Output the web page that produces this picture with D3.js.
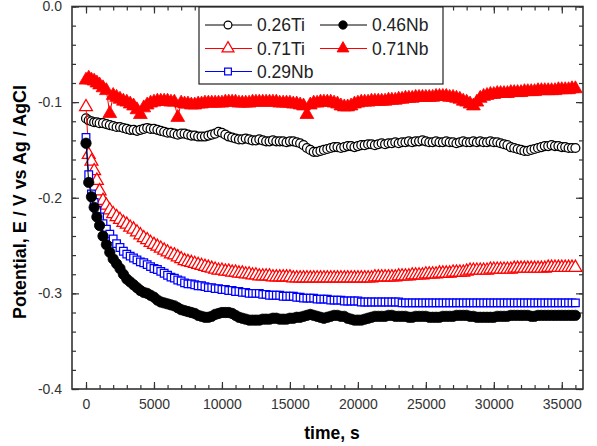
<!DOCTYPE html>
<html>
<head>
<meta charset="utf-8">
<script src="https://cdn.jsdelivr.net/npm/d3@7"></script>
<style>
  body { margin: 0; background: #fff; }
  svg text { font-family: "Liberation Sans", Arial, sans-serif; }
</style>
</head>
<body>
<div id="chart"></div>
<script>
// time axis (s), shared by every series
var times = [0, 200, 400, 600, 800, 1000, 1250, 1500, 1750, 2000,
  2250, 2500, 2750, 3000, 3250, 3500, 3750, 4000,
  4250, 4500, 4750, 5000, 5250, 5500, 5750, 6000,
  6250, 6500, 6750, 7000, 7250, 7500, 7750, 8000,
  8250, 8500, 8750, 9000, 9250, 9500, 9750, 10000,
  10250, 10500, 10750, 11000, 11250, 11500, 11750, 12000,
  12250, 12500, 12750, 13000, 13250, 13500, 13750, 14000,
  14250, 14500, 14750, 15000, 15250, 15500, 15750, 16000,
  16250, 16500, 16750, 17000, 17250, 17500, 17750, 18000,
  18250, 18500, 18750, 19000, 19250, 19500, 19750, 20000,
  20250, 20500, 20750, 21000, 21250, 21500, 21750, 22000,
  22250, 22500, 22750, 23000, 23250, 23500, 23750, 24000,
  24250, 24500, 24750, 25000, 25250, 25500, 25750, 26000,
  26250, 26500, 26750, 27000, 27250, 27500, 27750, 28000,
  28250, 28500, 28750, 29000, 29250, 29500, 29750, 30000,
  30250, 30500, 30750, 31000, 31250, 31500, 31750, 32000,
  32250, 32500, 32750, 33000, 33250, 33500, 33750, 34000,
  34250, 34500, 34750, 35000, 35250, 35500, 35750, 36000]

// potential, V vs Ag/AgCl
var ti026 = [-0.117, -0.119, -0.120, -0.121, -0.121, -0.122, -0.122, -0.123, -0.124, -0.125,
  -0.126, -0.126, -0.127, -0.128, -0.129, -0.129, -0.130, -0.129,
  -0.128, -0.127, -0.128, -0.128, -0.129, -0.130, -0.131, -0.132,
  -0.132, -0.133, -0.134, -0.133, -0.133, -0.134, -0.135, -0.135,
  -0.136, -0.136, -0.136, -0.135, -0.134, -0.133, -0.131, -0.132,
  -0.134, -0.136, -0.137, -0.138, -0.139, -0.139, -0.138, -0.139,
  -0.140, -0.140, -0.139, -0.140, -0.141, -0.141, -0.140, -0.141,
  -0.141, -0.141, -0.142, -0.141, -0.141, -0.142, -0.143, -0.145,
  -0.148, -0.150, -0.152, -0.152, -0.151, -0.150, -0.149, -0.148,
  -0.147, -0.147, -0.148, -0.147, -0.146, -0.146, -0.147, -0.146,
  -0.145, -0.145, -0.144, -0.144, -0.145, -0.144, -0.143, -0.144,
  -0.143, -0.143, -0.142, -0.143, -0.142, -0.142, -0.141, -0.142,
  -0.141, -0.141, -0.140, -0.141, -0.142, -0.142, -0.141, -0.142,
  -0.142, -0.141, -0.142, -0.142, -0.143, -0.142, -0.141, -0.142,
  -0.142, -0.141, -0.142, -0.141, -0.142, -0.142, -0.141, -0.142,
  -0.142, -0.143, -0.144, -0.145, -0.147, -0.148, -0.149, -0.150,
  -0.151, -0.151, -0.150, -0.149, -0.148, -0.147, -0.146, -0.146,
  -0.145, -0.146, -0.146, -0.147, -0.147, -0.148, -0.148, -0.148]

var nb046 = [-0.143, -0.184, -0.199, -0.210, -0.220, -0.229, -0.240, -0.249, -0.257, -0.264,
  -0.269, -0.274, -0.280, -0.285, -0.288, -0.291, -0.294, -0.297,
  -0.299, -0.300, -0.302, -0.304, -0.307, -0.309, -0.310, -0.311,
  -0.312, -0.313, -0.315, -0.317, -0.318, -0.319, -0.320, -0.321,
  -0.323, -0.324, -0.325, -0.325, -0.324, -0.322, -0.321, -0.320,
  -0.320, -0.320, -0.321, -0.323, -0.325, -0.326, -0.327, -0.328,
  -0.328, -0.328, -0.328, -0.327, -0.327, -0.327, -0.326, -0.326,
  -0.327, -0.327, -0.327, -0.326, -0.326, -0.325, -0.325, -0.324,
  -0.323, -0.322, -0.323, -0.324, -0.325, -0.326, -0.325, -0.324,
  -0.323, -0.323, -0.324, -0.324, -0.326, -0.327, -0.328, -0.328,
  -0.328, -0.327, -0.326, -0.325, -0.324, -0.324, -0.324, -0.324,
  -0.323, -0.323, -0.324, -0.324, -0.324, -0.324, -0.325, -0.325,
  -0.324, -0.324, -0.324, -0.324, -0.325, -0.325, -0.325, -0.325,
  -0.324, -0.324, -0.324, -0.324, -0.323, -0.323, -0.323, -0.323,
  -0.324, -0.324, -0.325, -0.325, -0.325, -0.325, -0.325, -0.325,
  -0.324, -0.324, -0.324, -0.324, -0.323, -0.323, -0.323, -0.323,
  -0.323, -0.323, -0.324, -0.324, -0.323, -0.323, -0.323, -0.323,
  -0.323, -0.323, -0.323, -0.323, -0.323, -0.323, -0.323, -0.323]

var ti071 = [-0.105, -0.155, -0.162, -0.172, -0.182, -0.193, -0.203, -0.208, -0.213, -0.217,
  -0.220, -0.223, -0.226, -0.228, -0.231, -0.233, -0.236, -0.239,
  -0.242, -0.244, -0.247, -0.249, -0.251, -0.253, -0.255, -0.257,
  -0.259, -0.260, -0.262, -0.264, -0.266, -0.267, -0.268, -0.269,
  -0.270, -0.271, -0.272, -0.273, -0.274, -0.275, -0.276, -0.276,
  -0.277, -0.277, -0.278, -0.278, -0.279, -0.279, -0.280, -0.280,
  -0.281, -0.281, -0.282, -0.282, -0.282, -0.282, -0.283, -0.283,
  -0.283, -0.283, -0.283, -0.283, -0.284, -0.284, -0.284, -0.284,
  -0.284, -0.284, -0.284, -0.284, -0.284, -0.284, -0.284, -0.284,
  -0.284, -0.284, -0.284, -0.284, -0.284, -0.284, -0.284, -0.284,
  -0.284, -0.284, -0.284, -0.284, -0.283, -0.283, -0.283, -0.283,
  -0.283, -0.283, -0.283, -0.282, -0.282, -0.282, -0.282, -0.281,
  -0.281, -0.281, -0.281, -0.280, -0.280, -0.280, -0.280, -0.279,
  -0.279, -0.279, -0.279, -0.278, -0.278, -0.278, -0.278, -0.277,
  -0.276, -0.276, -0.276, -0.276, -0.276, -0.276, -0.275, -0.275,
  -0.275, -0.275, -0.275, -0.275, -0.275, -0.274, -0.274, -0.274,
  -0.274, -0.274, -0.274, -0.274, -0.274, -0.274, -0.274, -0.273,
  -0.273, -0.273, -0.273, -0.273, -0.273, -0.273, -0.273, -0.273]

var nb071 = [-0.077, -0.075, -0.077, -0.078, -0.080, -0.082, -0.085, -0.088, -0.112, -0.093,
  -0.095, -0.097, -0.099, -0.100, -0.102, -0.104, -0.108, -0.113,
  -0.106, -0.103, -0.101, -0.100, -0.099, -0.099, -0.099, -0.099,
  -0.100, -0.100, -0.116, -0.101, -0.102, -0.102, -0.103, -0.103,
  -0.102, -0.102, -0.101, -0.101, -0.101, -0.101, -0.101, -0.101,
  -0.100, -0.100, -0.100, -0.100, -0.101, -0.101, -0.101, -0.101,
  -0.100, -0.100, -0.100, -0.100, -0.100, -0.100, -0.100, -0.100,
  -0.101, -0.101, -0.101, -0.101, -0.102, -0.102, -0.103, -0.104,
  -0.113, -0.103, -0.101, -0.101, -0.100, -0.100, -0.100, -0.100,
  -0.101, -0.102, -0.104, -0.105, -0.105, -0.104, -0.102, -0.101,
  -0.100, -0.100, -0.100, -0.099, -0.099, -0.099, -0.099, -0.099,
  -0.098, -0.098, -0.098, -0.097, -0.097, -0.096, -0.096, -0.096,
  -0.095, -0.095, -0.095, -0.095, -0.095, -0.095, -0.094, -0.094,
  -0.094, -0.094, -0.095, -0.095, -0.096, -0.097, -0.099, -0.100,
  -0.102, -0.104, -0.100, -0.096, -0.094, -0.093, -0.092, -0.092,
  -0.091, -0.091, -0.091, -0.091, -0.090, -0.090, -0.090, -0.090,
  -0.089, -0.089, -0.089, -0.089, -0.088, -0.088, -0.088, -0.088,
  -0.088, -0.088, -0.087, -0.087, -0.087, -0.087, -0.086, -0.086]

var nb029 = [-0.137, -0.176, -0.196, -0.205, -0.213, -0.220, -0.227, -0.233, -0.238, -0.243,
  -0.248, -0.252, -0.256, -0.259, -0.261, -0.263, -0.265, -0.267,
  -0.268, -0.270, -0.272, -0.274, -0.275, -0.277, -0.279, -0.281,
  -0.283, -0.284, -0.286, -0.287, -0.289, -0.290, -0.290, -0.291,
  -0.292, -0.292, -0.293, -0.294, -0.294, -0.295, -0.295, -0.296,
  -0.296, -0.297, -0.297, -0.298, -0.298, -0.299, -0.299, -0.300,
  -0.300, -0.300, -0.300, -0.301, -0.301, -0.302, -0.302, -0.302,
  -0.302, -0.303, -0.303, -0.303, -0.303, -0.304, -0.304, -0.305,
  -0.305, -0.305, -0.305, -0.306, -0.306, -0.306, -0.306, -0.307,
  -0.307, -0.307, -0.307, -0.308, -0.308, -0.308, -0.308, -0.308,
  -0.309, -0.309, -0.309, -0.309, -0.309, -0.309, -0.309, -0.309,
  -0.309, -0.309, -0.309, -0.309, -0.310, -0.310, -0.310, -0.310,
  -0.310, -0.310, -0.310, -0.310, -0.310, -0.310, -0.310, -0.310,
  -0.310, -0.310, -0.310, -0.310, -0.310, -0.310, -0.310, -0.310,
  -0.310, -0.310, -0.310, -0.310, -0.310, -0.310, -0.310, -0.310,
  -0.310, -0.310, -0.310, -0.310, -0.310, -0.310, -0.310, -0.310,
  -0.310, -0.310, -0.310, -0.310, -0.310, -0.310, -0.310, -0.310,
  -0.310, -0.310, -0.310, -0.310, -0.310, -0.310, -0.310, -0.310]

var seriesNames = ["0.26Ti", "0.46Nb", "0.71Ti", "0.71Nb", "0.29Nb"]
var xTicks = [0, 5000, 10000, 15000, 20000, 25000, 30000, 35000]
var yTicks = [0, -0.1, -0.2, -0.3, -0.4]

// drawing order: last one on top
var series = [
  {name: "0.26Ti", values: ti026, color: "#000", shape: d3.symbolCircle, size: 62, key: 48, open: true},
  {name: "0.71Nb", values: nb071, color: "#ff0000", shape: d3.symbolTriangle, size: 82, key: 62, open: false},
  {name: "0.71Ti", values: ti071, color: "#ff0000", shape: d3.symbolTriangle, size: 72, key: 62, open: true},
  {name: "0.29Nb", values: nb029, color: "#0000ff", shape: d3.symbolSquare, size: 58, key: 46, open: true},
  {name: "0.46Nb", values: nb046, color: "#000", shape: d3.symbolCircle, size: 84, key: 56, open: false}
]

var width = 597, height = 446
var margin = {left: 72, right: 583, top: 6.5, bottom: 389}

var svg = d3.select("#chart").append("svg")
  .attr("width", width)
  .attr("height", height)

var x = d3.scaleLinear().domain([-1030, 36560]).range([margin.left, margin.right])
var y = d3.scaleLinear().domain([-0.4, 0]).range([margin.bottom, margin.top])

var axisColor = "#333"

// minor ticks
var xMinor = d3.range(0, 36001, 1000)
var yMinor = d3.range(-40, 1, 2).map(function (d) { return d / 100 })

function minorAxis(axis, pos) {
  return svg.append("g").attr("transform", pos)
    .call(axis.tickSize(-4).tickFormat(""))
    .call(function (g) { g.select(".domain").remove() })
    .call(function (g) { g.selectAll("line").attr("stroke", axisColor).attr("stroke-width", 1.2) })
}
minorAxis(d3.axisBottom(x).tickValues(xMinor), "translate(0," + margin.bottom + ")")
minorAxis(d3.axisTop(x).tickValues(xMinor), "translate(0," + margin.top + ")")
minorAxis(d3.axisLeft(y).tickValues(yMinor), "translate(" + margin.left + ",0)")
minorAxis(d3.axisRight(y).tickValues(yMinor), "translate(" + margin.right + ",0)")

// major ticks
function majorAxis(axis, pos, fmt) {
  var g = svg.append("g").attr("transform", pos)
    .call(axis.tickSize(-7).tickPadding(fmt ? 10 : 0).tickFormat(fmt || ""))
  g.select(".domain").remove()
  g.selectAll("line").attr("stroke", axisColor).attr("stroke-width", 1.2)
  g.selectAll("text").attr("fill", "#333").style("font-size", "14px")
  return g
}
majorAxis(d3.axisBottom(x).tickValues(xTicks), "translate(0," + margin.bottom + ")", function (d) { return String(d) })
majorAxis(d3.axisTop(x).tickValues(xTicks), "translate(0," + margin.top + ")")
majorAxis(d3.axisLeft(y).tickValues(yTicks), "translate(" + margin.left + ",0)", function (d) { return d.toFixed(1) })
majorAxis(d3.axisRight(y).tickValues(yTicks), "translate(" + margin.right + ",0)")

// frame
svg.append("rect")
  .attr("x", margin.left).attr("y", margin.top)
  .attr("width", margin.right - margin.left).attr("height", margin.bottom - margin.top)
  .attr("fill", "none").attr("stroke", axisColor).attr("stroke-width", 1.6)

// series
var line = d3.line()
  .x(function (d, i) { return x(times[i]) })
  .y(function (d) { return y(d) })

series.forEach(function (s) {
  var g = svg.append("g")
  g.append("path")
    .datum(s.values)
    .attr("d", line)
    .attr("fill", "none")
    .attr("stroke", s.color)
    .attr("stroke-width", 1)
  g.selectAll("path.pt")
    .data(s.values)
    .enter().append("path")
    .attr("class", "pt")
    .attr("d", d3.symbol().type(s.shape).size(s.size))
    .attr("transform", function (d, i) { return "translate(" + x(times[i]) + "," + y(d) + ")" })
    .attr("fill", s.open ? "#fff" : s.color)
    .attr("stroke", s.color)
    .attr("stroke-width", s.open ? 1.25 : 0.8)
})

// legend
var legend = svg.append("g")
legend.append("rect")
  .attr("x", 199).attr("y", 7)
  .attr("width", 244).attr("height", 77)
  .attr("fill", "#fff").attr("stroke", "#222").attr("stroke-width", 1.2)

var legendPos = {
  "0.26Ti": [205, 25], "0.46Nb": [320, 25],
  "0.71Ti": [205, 48.5], "0.71Nb": [320, 48.5],
  "0.29Nb": [205, 71.5]
}
seriesNames.forEach(function (name) {
  var s = series.filter(function (d) { return d.name === name })[0]
  var p = legendPos[name]
  var g = legend.append("g").attr("transform", "translate(" + p[0] + "," + p[1] + ")")
  g.append("line").attr("x1", 0).attr("x2", 47).attr("y1", 0).attr("y2", 0)
    .attr("stroke", s.color).attr("stroke-width", 1)
  g.append("path")
    .attr("d", d3.symbol().type(s.shape).size(s.key))
    .attr("transform", "translate(23,0)")
    .attr("fill", s.open ? "#fff" : s.color)
    .attr("stroke", s.color)
    .attr("stroke-width", s.open ? 1.2 : 0.8)
  g.append("text")
    .attr("x", 52).attr("y", 0).attr("dy", "0.36em")
    .attr("fill", "#222")
    .style("font-size", "17.5px")
    .text(name)
})

// axis titles
svg.append("text")
  .attr("x", 332).attr("y", 439)
  .attr("text-anchor", "middle")
  .style("font-size", "17.5px").style("font-weight", "bold")
  .text("time, s")

svg.append("text")
  .attr("transform", "translate(26,202) rotate(-90)")
  .attr("text-anchor", "middle")
  .attr("textLength", 234).attr("lengthAdjust", "spacingAndGlyphs")
  .style("font-size", "17.5px").style("font-weight", "bold")
  .text("Potential, E / V vs Ag / AgCl")
</script>
</body>
</html>
